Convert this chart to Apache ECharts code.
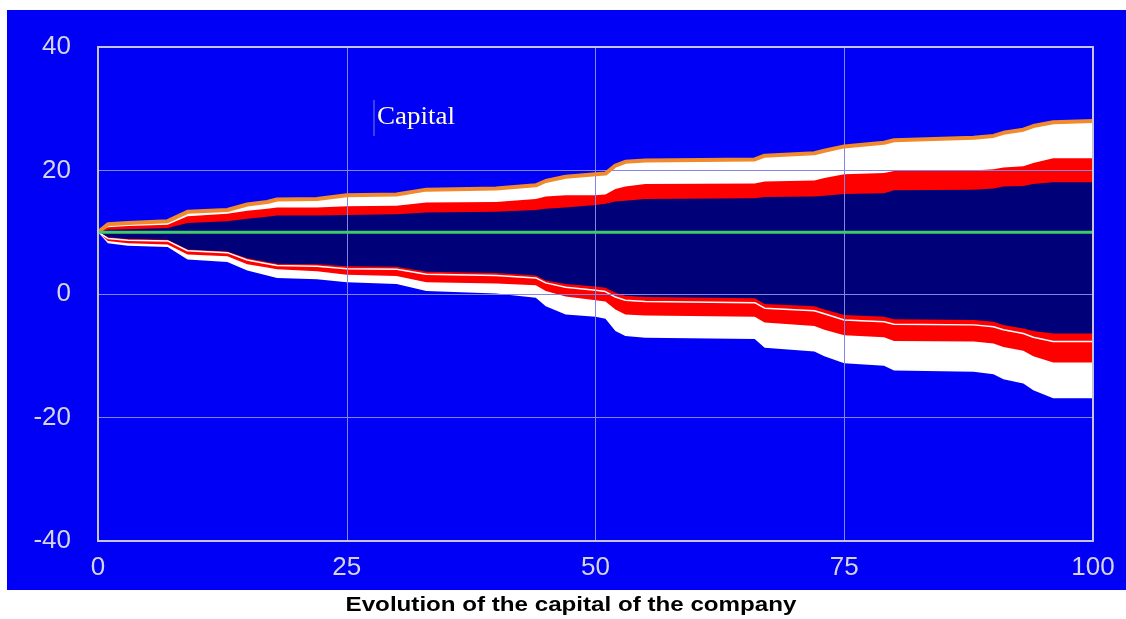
<!DOCTYPE html>
<html>
<head>
<meta charset="utf-8">
<script src="https://cdn.jsdelivr.net/npm/echarts@6/dist/echarts.min.js"></script>
<style>
html,body{margin:0;padding:0;background:#fff;}
#c{width:1126px;height:619px;}
</style>
</head>
<body>
<div id="c"></div>
<script>
// time steps (x)
var steps = [0,1,3,7,9,13,15,17,18,22,25,30,33,40,44,45,47,50,51,52,53,55,66,67,72,73,75,79,80,88,90,91,93,94,96,100];
// maximum capital (orange line)
var capMax = [10,11.3,11.5,11.8,13.3,13.6,14.5,14.9,15.3,15.4,16.0,16.1,16.9,17.1,17.6,18.3,19.0,19.4,19.5,20.8,21.4,21.6,21.8,22.4,22.8,23.2,23.9,24.5,24.9,25.3,25.6,26.1,26.6,27.2,27.8,28.0];
// upper outer band limit (white / red)
var upperOuter = [10,10.8,11.0,11.2,12.6,13.0,13.5,13.8,14.0,14.0,14.2,14.3,14.8,14.9,15.4,15.8,16.0,16.0,16.1,17.0,17.4,17.8,17.9,18.2,18.4,18.8,19.4,19.6,19.9,20.0,20.2,20.5,20.7,21.2,22.0,22.0];
// upper inner band limit (red / navy)
var upperInner = [10,10.4,10.5,10.7,11.5,11.8,12.2,12.5,12.7,12.7,12.8,12.9,13.2,13.3,13.6,13.8,14.0,14.4,14.6,15.0,15.1,15.4,15.5,15.7,15.8,15.9,16.2,16.3,16.8,16.9,17.1,17.4,17.5,17.8,18.1,18.1];
// lower inner band limit (navy / red)
var lowerInner = [10,9.2,8.9,8.8,7.2,6.9,5.8,5.2,4.9,4.8,4.5,4.4,3.6,3.4,3.0,2.2,1.6,1.2,1.0,0.2,-0.3,-0.5,-0.7,-1.6,-2.0,-2.5,-3.4,-3.7,-4.1,-4.2,-4.5,-5.0,-5.6,-6.0,-6.4,-6.4];
// thin white line inside lower red band
var lowerLine = [10,9.0,8.7,8.6,7.0,6.7,5.5,4.9,4.6,4.5,4.1,4.0,3.2,3.0,2.6,1.8,1.1,0.6,0.4,-0.5,-1.0,-1.2,-1.4,-2.3,-2.7,-3.2,-4.2,-4.5,-4.9,-5.0,-5.3,-5.8,-6.4,-7.0,-7.7,-7.7];
// lower outer band limit (red / white)
var lowerOuter = [10,8.6,8.2,8.0,6.4,6.1,4.8,4.3,4.0,3.7,3.1,2.9,1.9,1.7,1.4,0.5,-0.4,-1.0,-1.2,-2.5,-3.3,-3.5,-3.7,-4.6,-5.2,-5.8,-6.7,-7.0,-7.6,-7.7,-8.0,-8.6,-9.2,-10.1,-11.1,-11.1];
// minimum capital
var capMin = [10,8.2,7.8,7.6,5.6,5.2,3.8,3.0,2.6,2.4,1.9,1.6,0.5,0.1,-0.6,-2.0,-3.3,-3.7,-4.0,-6.0,-6.8,-7.1,-7.3,-8.7,-9.3,-10.1,-11.2,-11.6,-12.4,-12.6,-13.0,-13.8,-14.5,-15.6,-16.9,-16.9];
// initial capital level (green line)
var initialX = [0,100];
var initialCap = [10,10];

function pairs(xs, ys){ return xs.map(function(x,i){ return [x, ys[i]]; }); }

function band(name, ys, color, z){
  return {
    name: name, type: 'line', data: pairs(steps, ys), z: z,
    symbol: 'none', silent: true,
    lineStyle: {width: 0, color: color},
    areaStyle: {color: color, opacity: 1, origin: 'start'}
  };
}

var chart = echarts.init(document.getElementById('c'), null, {renderer: 'canvas'});
var option = {
  animation: false,
  backgroundColor: '#ffffff',
  graphic: [
    {type: 'rect', z: -10, silent: true, shape: {x: 7, y: 10, width: 1119, height: 580}, style: {fill: '#0000f6'}},
    {type: 'line', z: 20, silent: true, shape: {x1: 374, y1: 100, x2: 374, y2: 136}, style: {stroke: '#7c7cf0', lineWidth: 1}},
    {type: 'text', z: 20, silent: true, x: 377, y: 117, scaleX: 1.08,
     style: {text: 'Capital', fill: '#fffbd8', font: '25px "Liberation Serif", "Times New Roman", serif',
             align: 'left', verticalAlign: 'middle', textAlign: 'left', textVerticalAlign: 'middle'}},
    {type: 'text', z: 20, silent: true, x: 571, y: 605, scaleX: 1.15,
     style: {text: 'Evolution of the capital of the company', fill: '#000000',
             font: 'bold 21px "Liberation Sans", Arial, sans-serif',
             align: 'center', verticalAlign: 'middle', textAlign: 'center', textVerticalAlign: 'middle'}}
  ],
  grid: {left: 98, top: 47, right: 33, bottom: 78, show: true, z: 12,
         borderColor: '#c4c4d4', borderWidth: 2, backgroundColor: 'transparent'},
  xAxis: {
    type: 'value', min: 0, max: 100, interval: 25, z: 8,
    axisLine: {show: false}, axisTick: {show: false},
    splitLine: {show: true, lineStyle: {color: '#8484e8', width: 1}},
    axisLabel: {color: '#d4d4e4', fontSize: 26, fontFamily: 'Liberation Sans, Arial', margin: 14}
  },
  yAxis: {
    type: 'value', min: -40, max: 40, interval: 20, z: 8,
    axisLine: {show: false}, axisTick: {show: false},
    splitLine: {show: true, lineStyle: {color: '#8484e8', width: 1}},
    axisLabel: {color: '#d4d4e4', fontSize: 26, fontFamily: 'Liberation Sans, Arial', margin: 27}
  },
  series: [
    band('max band', capMax, '#ffffff', 2),
    band('upper outer', upperOuter, '#ff0000', 2),
    band('upper inner', upperInner, '#000078', 2),
    band('lower inner', lowerInner, '#ff0000', 2),
    {name: 'lower line', type: 'line', data: pairs(steps, lowerLine), z: 3, symbol: 'none', silent: true,
     lineStyle: {width: 1.5, color: '#ffffff'}},
    band('lower outer', lowerOuter, '#ffffff', 4),
    band('min', capMin, '#0000f6', 4),
    {name: 'Capital', type: 'line', data: pairs(steps, capMax), z: 10, symbol: 'none', silent: true,
     lineStyle: {width: 4, color: '#f08a2c'}},
    {name: 'initial', type: 'line', data: pairs(initialX, initialCap), z: 10, symbol: 'none', silent: true,
     lineStyle: {width: 3, color: '#3ccc6a'}}
  ]
};
chart.setOption(option);
</script>
</body>
</html>
